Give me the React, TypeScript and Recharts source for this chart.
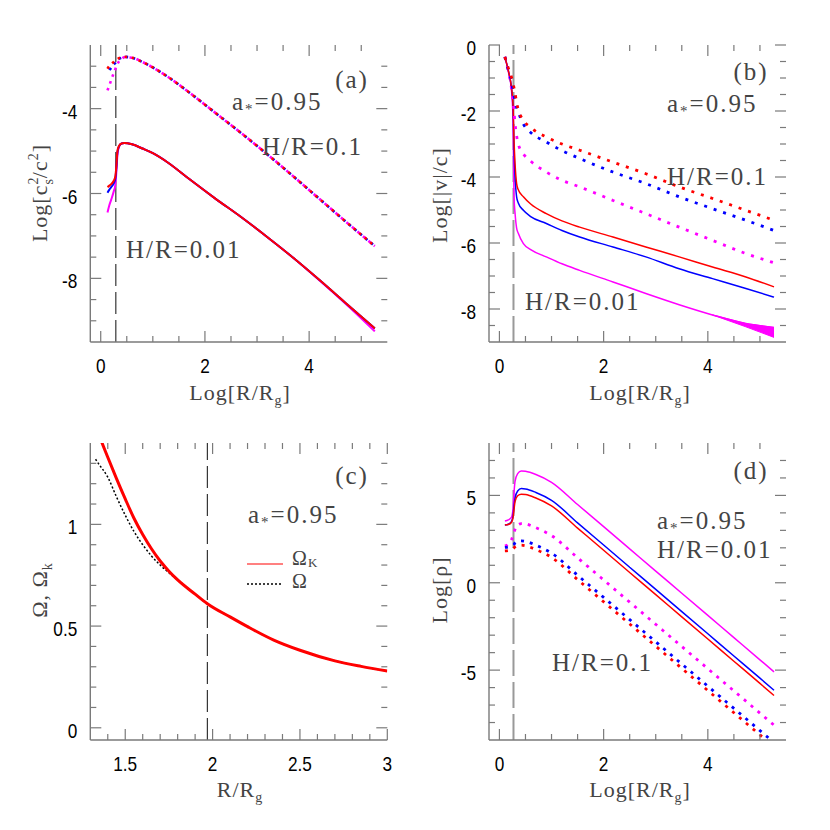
import React from 'react';
import { ComposedChart, Line, Area, XAxis, YAxis, ReferenceLine } from 'recharts';

const PAGE = 830;
const PW = 297;
const PH = 297;
const AX = '#7a7a7a';
const TXT = '#444';
const RED = '#ff0000';
const BLUE = '#0000ff';
const MAG = '#ff00ff';
const SERIF = "'Liberation Serif', 'Times New Roman', serif";
const SANS = "'Liberation Sans', Arial, sans-serif";

// ---------- tick values ----------
const logXTicks = [0, 0.5, 1, 1.5, 2, 2.5, 3, 3.5, 4, 4.5, 5];
const logXLabels = [0, 2, 4];
const aYTicks = [-9, -8.5, -8, -7.5, -7, -6.5, -6, -5.5, -5, -4.5, -4, -3.5, -3];
const aYLabels = [-8, -6, -4];
const bYTicks = [-8.5, -8, -7.5, -7, -6.5, -6, -5.5, -5, -4.5, -4, -3.5, -3, -2.5, -2, -1.5, -1, -0.5, 0];
const bYLabels = [-8, -6, -4, -2, 0];
const cXTicks = [1.4, 1.5, 1.6, 1.7, 1.8, 1.9, 2, 2.1, 2.2, 2.3, 2.4, 2.5, 2.6, 2.7, 2.8, 2.9, 3];
const cXLabels = [1.5, 2, 2.5, 3];
const cYTicks = [0, 0.1, 0.2, 0.3, 0.4, 0.5, 0.6, 0.7, 0.8, 0.9, 1, 1.1, 1.2, 1.3];
const cYLabels = [0, 0.5, 1];
const dYTicks = [-8, -7, -6, -5, -4, -3, -2, -1, 0, 1, 2, 3, 4, 5, 6, 7];
const dYLabels = [-5, 0, 5];

// ---------- panel (a): Log[cs^2/c^2] ----------
const aX = [0.13, 0.16, 0.2, 0.25, 0.28, 0.3, 0.32, 0.35, 0.4, 0.45, 0.6, 0.8, 1.0, 1.3, 1.7, 2.2, 2.7, 3.2, 3.7, 4.2, 4.7, 5.26];
const aRedThick = [-3.06, -3.0, -2.95, -2.9, -2.87, -2.85, -2.83, -2.81, -2.79, -2.78, -2.8, -2.9, -3.03, -3.26, -3.62, -4.1, -4.58, -5.08, -5.6, -6.13, -6.66, -7.24];
const aBlueThick = [-3.16, -3.1, -3.04, -2.96, -2.92, -2.89, -2.86, -2.83, -2.8, -2.78, -2.8, -2.9, -3.03, -3.26, -3.62, -4.1, -4.58, -5.08, -5.6, -6.13, -6.66, -7.24];
const aMagThick = [-3.57, -3.47, -3.33, -3.16, -3.07, -3.0, -2.95, -2.89, -2.83, -2.79, -2.8, -2.9, -3.03, -3.26, -3.62, -4.1, -4.58, -5.08, -5.6, -6.13, -6.66, -7.24];
const aRedThin = [-5.85, -5.82, -5.78, -5.7, -5.6, -5.35, -5.0, -4.88, -4.82, -4.81, -4.84, -4.94, -5.05, -5.28, -5.66, -6.12, -6.56, -7.03, -7.52, -8.04, -8.58, -9.18];
const aBlueThin = [-5.98, -5.92, -5.85, -5.76, -5.66, -5.4, -5.03, -4.89, -4.82, -4.81, -4.84, -4.94, -5.05, -5.28, -5.66, -6.12, -6.56, -7.03, -7.52, -8.04, -8.58, -9.18];
const aMagThin = [-6.45, -6.3, -6.15, -5.95, -5.8, -5.5, -5.1, -4.9, -4.82, -4.81, -4.84, -4.94, -5.05, -5.28, -5.66, -6.12, -6.56, -7.03, -7.52, -8.05, -8.6, -9.25];

// ---------- panel (b): Log[|v|/c] ----------
const bX = [0.105, 0.17, 0.23, 0.26, 0.28, 0.3, 0.33, 0.36, 0.46, 0.6, 0.9, 1.2, 1.54, 2.18, 2.81, 3.45, 4.09, 4.73, 5.27];
const bRedThick = [-0.36, -0.7, -0.97, -1.15, -1.3, -1.45, -1.75, -1.95, -2.28, -2.5, -2.79, -3.0, -3.19, -3.55, -3.9, -4.3, -4.65, -5.01, -5.31];
const bBlueThick = [-0.36, -0.75, -1.1, -1.37, -1.55, -1.72, -1.9, -2.03, -2.4, -2.65, -2.94, -3.2, -3.44, -3.85, -4.2, -4.6, -4.96, -5.31, -5.62];
const bMagThick = [-0.36, -0.8, -1.3, -1.7, -2.0, -2.38, -2.75, -2.99, -3.3, -3.52, -3.85, -4.1, -4.3, -4.71, -5.11, -5.52, -5.92, -6.32, -6.6];
const bRedThin = [-0.36, -0.77, -1.27, -1.77, -2.89, -3.6, -4.2, -4.38, -4.6, -4.82, -5.11, -5.33, -5.52, -5.82, -6.12, -6.42, -6.73, -7.03, -7.33];
const bBlueThin = [-0.36, -0.77, -1.3, -1.85, -3.19, -4.0, -4.6, -4.78, -5.01, -5.2, -5.41, -5.62, -5.82, -6.12, -6.42, -6.78, -7.08, -7.38, -7.64];
const bMagThin = [-0.36, -0.8, -1.35, -2.2, -4.6, -5.1, -5.55, -5.7, -6.02, -6.2, -6.42, -6.63, -6.83, -7.18, -7.53, -7.87, -8.18, -8.44, -8.56];
const bMagThinLow = [null, null, null, null, null, null, null, null, null, null, null, null, null, null, null, null, -8.18, -8.54, -8.86];

// ---------- panel (c): Omega, Omega_K ----------
const cX = [1.33, 1.35, 1.4, 1.45, 1.5, 1.55, 1.6, 1.65, 1.7, 1.75, 1.8, 1.9, 1.97, 2.1, 2.2, 2.35, 2.5, 2.7, 2.85, 3.0];
const cOmegaK = [1.49, 1.44, 1.33, 1.225, 1.125, 1.03, 0.95, 0.88, 0.82, 0.77, 0.727, 0.657, 0.61, 0.545, 0.497, 0.431, 0.381, 0.329, 0.302, 0.279];
const cOmega = [1.32, 1.295, 1.232, 1.135, 1.045, 0.965, 0.9, 0.845, 0.8, 0.762, 0.727, 0.657, 0.61, 0.545, 0.497, 0.431, 0.381, 0.329, 0.302, 0.279];

// ---------- panel (d): Log[rho] ----------
const dX = [0.105, 0.17, 0.23, 0.26, 0.28, 0.3, 0.35, 0.42, 0.5, 0.7, 1.0, 1.5, 2.0, 2.5, 3.0, 3.5, 4.0, 4.5, 5.0, 5.27];
const dRedThin = [3.3, 3.33, 3.45, 3.7, 4.2, 4.65, 4.98, 5.07, 5.05, 4.85, 4.4, 3.13, 1.86, 0.59, -0.68, -1.95, -3.22, -4.49, -5.76, -6.45];
const dBlueThin = [3.3, 3.35, 3.5, 3.8, 4.4, 4.85, 5.25, 5.39, 5.37, 5.17, 4.72, 3.43, 2.16, 0.89, -0.38, -1.65, -2.92, -4.19, -5.46, -6.15];
const dMagThin = [3.54, 3.6, 3.74, 4.2, 5.16, 5.8, 6.25, 6.4, 6.38, 6.2, 5.75, 4.48, 3.21, 1.94, 0.67, -0.6, -1.87, -3.14, -4.41, -5.1];
const dRedThick = [1.83, 1.85, 1.9, 1.95, 2.0, 2.05, 2.12, 2.15, 2.12, 1.9, 1.45, 0.18, -1.09, -2.36, -3.63, -4.9, -6.17, -7.44, -8.71, -9.4];
const dBlueThick = [2.02, 2.05, 2.1, 2.15, 2.2, 2.28, 2.37, 2.4, 2.37, 2.15, 1.7, 0.43, -0.84, -2.11, -3.38, -4.65, -5.92, -7.19, -8.46, -9.15];
const dMagThick = [2.11, 2.2, 2.45, 2.7, 2.9, 3.05, 3.3, 3.39, 3.37, 3.15, 2.7, 1.43, 0.16, -1.11, -2.38, -3.65, -4.92, -6.19, -7.46, -8.15];

// ---------- tables ----------
const aData = aX.map((x, i) => ({ x, rT: aRedThick[i], bT: aBlueThick[i], mT: aMagThick[i], r: aRedThin[i], b: aBlueThin[i], m: aMagThin[i] }));
const bData = bX.map((x, i) => ({
  x, rT: bRedThick[i], bT: bBlueThick[i], mT: bMagThick[i], r: bRedThin[i], b: bBlueThin[i], m: bMagThin[i],
  fan: bMagThinLow[i] == null ? undefined : [bMagThinLow[i], bMagThin[i]],
}));
const cData = cX.map((x, i) => ({ x, k: cOmegaK[i], o: cOmega[i] }));
const dData = dX.map((x, i) => ({ x, rT: dRedThick[i], bT: dBlueThick[i], mT: dMagThick[i], r: dRedThin[i], b: dBlueThin[i], m: dMagThin[i] }));

const near = (arr: number[], v: number) => arr.some((m) => Math.abs(m - v) < 1e-6);

const makeXTick = (labels: number[]) => (props: any) => {
  const { x, y, payload } = props;
  const v = payload.value;
  const major = near(labels, v);
  const len = major ? 11 : 6;
  return (
    <g>
      <line x1={x} x2={x} y1={y} y2={y - len} stroke={AX} strokeWidth={1.2} />
      <line x1={x} x2={x} y1={y - PH} y2={y - PH + len} stroke={AX} strokeWidth={1.2} />
      {major ? (
        <text transform={`translate(${x},${y + 31}) scale(0.82,1)`} textAnchor="middle" fontFamily={SANS} fontSize={21} fill="#000">
          {String(v)}
        </text>
      ) : null}
    </g>
  );
};

const makeYTick = (labels: number[]) => (props: any) => {
  const { x, y, payload } = props;
  const v = payload.value;
  const major = near(labels, v);
  const len = major ? 11 : 6;
  return (
    <g>
      <line x1={x} x2={x + len} y1={y} y2={y} stroke={AX} strokeWidth={1.2} />
      <line x1={x + PW} x2={x + PW - len} y1={y} y2={y} stroke={AX} strokeWidth={1.2} />
      {major ? (
        <text transform={`translate(${x - 13},${y + 10}) scale(0.82,1)`} textAnchor="end" fontFamily={SANS} fontSize={21} fill="#000">
          {String(v)}
        </text>
      ) : null}
    </g>
  );
};

type PanelProps = {
  left: number; top: number; data: any[];
  xDomain: [number, number]; yDomain: [number, number];
  xTicks: number[]; xLabels: number[]; yTicks: number[]; yLabels: number[];
  children: React.ReactNode;
};

function Panel(p: PanelProps) {
  const margin = { top: p.top, left: 0, right: PAGE - p.left - PW, bottom: PAGE - p.top - PH - 30 };
  const axisLine = { stroke: AX, strokeWidth: 1.4 };
  return (
    <div style={{ position: 'absolute', left: 0, top: 0 }}>
      <ComposedChart width={PAGE} height={PAGE} data={p.data} margin={margin}>
        <XAxis xAxisId={0} dataKey="x" type="number" domain={p.xDomain} ticks={p.xTicks} interval={0} allowDataOverflow height={30}
          tickSize={0} tickMargin={0} tickLine={false} axisLine={axisLine} tick={makeXTick(p.xLabels)} />
        <XAxis xAxisId="top" orientation="top" dataKey="x" type="number" domain={p.xDomain} allowDataOverflow height={0}
          tick={false} tickLine={false} axisLine={axisLine} />
        <YAxis yAxisId={0} type="number" domain={p.yDomain} ticks={p.yTicks} interval={0} allowDataOverflow width={p.left}
          tickSize={0} tickMargin={0} tickLine={false} axisLine={axisLine} tick={makeYTick(p.yLabels)} />
        <YAxis yAxisId="right" orientation="right" type="number" domain={p.yDomain} allowDataOverflow width={0}
          tick={false} tickLine={false} axisLine={axisLine} />
        {p.children}
      </ComposedChart>
    </div>
  );
}

const solid = (key: string, color: string, w = 1.5) => (
  <Line key={key} dataKey={key} type="monotone" stroke={color} strokeWidth={w} dot={false} activeDot={false} isAnimationActive={false} />
);
const dotted = (key: string, color: string, dash: string, w = 2.6, offset = 0) => (
  <Line key={key} dataKey={key} type="monotone" stroke={color} strokeWidth={w} strokeDasharray={dash} strokeDashoffset={offset}
    dot={false} activeDot={false} isAnimationActive={false} />
);

const Astar = ({ x, y }: { x: number; y: number }) => (
  <text x={x} y={y} fontFamily={SERIF} fontSize={25} letterSpacing={2} fill={TXT}>
    a<tspan fontSize={15} dy={4}>*</tspan><tspan dy={-4}>=0.95</tspan>
  </text>
);
const Lbl = ({ x, y, t, anchor = 'start' }: { x: number; y: number; t: string; anchor?: string }) => (
  <text x={x} y={y} fontFamily={SERIF} fontSize={25} letterSpacing={2} fill={TXT} textAnchor={anchor as any}>{t}</text>
);
const XTitle = ({ x, y, log }: { x: number; y: number; log: boolean }) => (
  <text x={x} y={y} fontFamily={SERIF} fontSize={22} letterSpacing={1} fill={TXT} textAnchor="middle">
    {log ? 'Log[R/R' : 'R/R'}<tspan fontSize={14} dy={5}>g</tspan>{log ? <tspan dy={-5}>]</tspan> : null}
  </text>
);

function Overlay() {
  return (
    <svg width={PAGE} height={PAGE} style={{ position: 'absolute', left: 0, top: 0, pointerEvents: 'none' }}>
      {/* axis titles */}
      <XTitle x={240} y={400} log />
      <XTitle x={640} y={400} log />
      <XTitle x={240} y={797} log={false} />
      <XTitle x={640} y={797} log />
      <text transform="translate(47,193) rotate(-90)" fontFamily={SERIF} fontSize={22} letterSpacing={1} fill={TXT} textAnchor="middle">
        Log[c<tspan fontSize={14} dy={-9}>2</tspan><tspan fontSize={14} dx={-8} dy={15}>s</tspan><tspan dy={-6}>/c</tspan><tspan fontSize={14} dy={-9}>2</tspan><tspan dy={9}>]</tspan>
      </text>
      <text transform="translate(447,195) rotate(-90)" fontFamily={SERIF} fontSize={22} letterSpacing={1} fill={TXT} textAnchor="middle">
        Log[|v|/c]
      </text>
      <text transform="translate(47,590) rotate(-90)" fontFamily={SERIF} fontSize={22} letterSpacing={1} fill={TXT} textAnchor="middle">
        Ω, Ω<tspan fontSize={14} dy={5}>k</tspan>
      </text>
      <text transform="translate(447,590) rotate(-90)" fontFamily={SERIF} fontSize={22} letterSpacing={1} fill={TXT} textAnchor="middle">
        Log[ρ]
      </text>

      {/* panel a */}
      <Lbl x={352} y={88} t="(a)" anchor="middle" />
      <Astar x={232} y={110} />
      <Lbl x={262} y={155} t="H/R=0.1" />
      <Lbl x={126} y={258} t="H/R=0.01" />

      {/* panel b */}
      <Lbl x={751} y={80} t="(b)" anchor="middle" />
      <Astar x={667} y={112} />
      <Lbl x={667} y={185} t="H/R=0.1" />
      <Lbl x={525} y={310} t="H/R=0.01" />

      {/* panel c */}
      <Lbl x={352} y={484} t="(c)" anchor="middle" />
      <Astar x={248} y={523} />
      <line x1={247} x2={283} y1={564} y2={564} stroke="#ff8080" strokeWidth={2} />
      <line x1={247} x2={283} y1={584} y2={584} stroke="#000" strokeWidth={1.4} strokeDasharray="2 2" />
      <text x={292} y={565} fontFamily={SERIF} fontSize={20} fill={TXT}>Ω</text>
      <text x={308} y={567} fontFamily={SERIF} fontSize={13} fill={TXT}>K</text>
      <text x={292} y={588} fontFamily={SERIF} fontSize={20} fill={TXT}>Ω</text>

      {/* panel d */}
      <Lbl x={751} y={479} t="(d)" anchor="middle" />
      <Astar x={657} y={529} />
      <Lbl x={657} y={558} t="H/R=0.01" />
      <Lbl x={552} y={671} t="H/R=0.1" />
    </svg>
  );
}

export default function App() {
  return (
    <div style={{ position: 'absolute', left: 0, top: 0, width: PAGE, height: PAGE, background: '#fff', overflow: 'hidden' }}>
      <Panel left={90.3} top={45} data={aData} xDomain={[-0.2, 5.5]} yDomain={[-9.5, -2.5]}
        xTicks={logXTicks} xLabels={logXLabels} yTicks={aYTicks} yLabels={aYLabels}>
        <ReferenceLine x={0.29} stroke="#222" strokeWidth={1.1} strokeDasharray="22 6" ifOverflow="hidden" />
        {solid('m', MAG, 2)}
        {solid('b', BLUE, 2)}
        {solid('r', RED, 2)}
        {dotted('mT', MAG, '2.6 4.6', 2.6, 0)}
        {dotted('bT', BLUE, '2.6 4.6', 2.6, 3.6)}
        {dotted('rT', RED, '2.6 4.6', 2.6, 0)}
      </Panel>

      <Panel left={489} top={45} data={bData} xDomain={[-0.2, 5.5]} yDomain={[-9, 0]}
        xTicks={logXTicks} xLabels={logXLabels} yTicks={bYTicks} yLabels={bYLabels}>
        <ReferenceLine x={0.27} stroke="#999" strokeWidth={2} strokeDasharray="26 6" ifOverflow="hidden" />
        <Area dataKey="fan" type="linear" stroke={MAG} strokeWidth={1} fill={MAG} fillOpacity={1} dot={false} activeDot={false} isAnimationActive={false} />
        {solid('m', MAG)}
        {solid('b', BLUE)}
        {solid('r', RED)}
        {dotted('mT', MAG, '3 7', 2.8)}
        {dotted('bT', BLUE, '3 7', 2.8)}
        {dotted('rT', RED, '3 7', 2.8)}
      </Panel>

      <Panel left={90.3} top={443} data={cData} xDomain={[1.3, 3]} yDomain={[-0.06, 1.4]}
        xTicks={cXTicks} xLabels={cXLabels} yTicks={cYTicks} yLabels={cYLabels}>
        <ReferenceLine x={1.97} stroke="#222" strokeWidth={1.1} strokeDasharray="22 6" ifOverflow="hidden" />
        {dotted('o', '#000', '2 2', 1.5)}
        {solid('k', RED, 3)}
      </Panel>

      <Panel left={489} top={443} data={dData} xDomain={[-0.2, 5.5]} yDomain={[-9, 8]}
        xTicks={logXTicks} xLabels={logXLabels} yTicks={dYTicks} yLabels={dYLabels}>
        <ReferenceLine x={0.27} stroke="#999" strokeWidth={2} strokeDasharray="26 6" ifOverflow="hidden" />
        {solid('m', MAG)}
        {solid('b', BLUE)}
        {solid('r', RED)}
        {dotted('mT', MAG, '3 6', 2.8)}
        {dotted('bT', BLUE, '3 6', 2.8)}
        {dotted('rT', RED, '3 6', 2.8)}
      </Panel>

      <Overlay />
    </div>
  );
}
